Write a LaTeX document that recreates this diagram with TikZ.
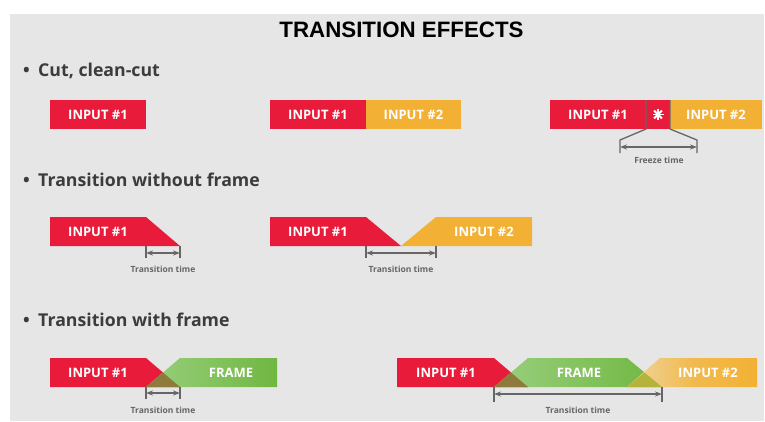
\documentclass[tikz,border=0pt]{standalone}
\usepackage{fontspec}
\setmainfont{Open Sans}
\newfontfamily\titulo{Liberation Sans}
\usetikzlibrary{arrows.meta}
\definecolor{rojo}{HTML}{E81C3A}
\definecolor{naranja}{HTML}{F2B134}
\definecolor{naranjac}{HTML}{EFD6A2}
\definecolor{verde}{HTML}{70B741}
\definecolor{verdec}{HTML}{99CF7E}
\definecolor{marron}{HTML}{8E7B3B}
\definecolor{oliva}{HTML}{B6B33C}
\definecolor{gris}{HTML}{666666}
\definecolor{fondo}{HTML}{E6E6E6}
\definecolor{texto}{HTML}{3C3C3C}

\begin{document}
\begin{tikzpicture}[x=1pt,y=-1pt,
        b/.style={text=white,inner sep=0pt,font=\fontsize{13}{13}\selectfont\bfseries},
        h/.style={anchor=base west,inner sep=0pt,text=texto,font=\fontsize{17.7}{18}\selectfont\bfseries},
        t/.style={text=gris,inner sep=0pt,font=\fontsize{8.5}{9}\selectfont\bfseries},
        f/.style={{Stealth[length=7pt,width=5pt]}-{Stealth[length=7pt,width=5pt]},gris,line width=1.3pt},
        c/.style={gris,line width=1.3pt}]
        \useasboundingbox (0,0) rectangle (765,421);
        \fill[white] (0,0) rectangle (765,421);
        \fill[fondo] (10,14) rectangle (764,421);
        \node[anchor=base,inner sep=0pt,font=\titulo\bfseries\fontsize{22.3}{23}\selectfont] (tit) at (401.5,37) {TRANSITION EFFECTS};

        % cut, clean-cut
        \node[h] (s1) at (23,76) {\makebox[15pt][l]{•}Cut, clean-cut};
        \fill[rojo] (50,100) rectangle (146,129);
        \node[b] (a1) at (98,114.5) {INPUT \#1};
        \fill[rojo] (270,100) rectangle (366,129);
        \fill[naranja] (366,100) rectangle (461,129);
        \node[b] (b1) at (318,114.5) {INPUT \#1};
        \node[b] (b2) at (413.5,114.5) {INPUT \#2};
        \fill[rojo] (550,100) rectangle (670,129);
        \fill[naranja] (670,100) rectangle (762,129);
        \node[b] (c1) at (598,114.5) {INPUT \#1};
        \node[b] (c2) at (716,114.5) {INPUT \#2};
        \coordinate (st) at (658,114.5);
        \foreach \a in {0,45,90,135}
          \draw[white,line width=1.8pt] (st) ++(\a:5.5) -- ++(\a+180:11);
        \coordinate (fz1) at (620,147); \coordinate (fz2) at (697,147);
        \draw[c] (646,100) -- (646,129) -- (620,140) -- (620,153);
        \draw[c] (670,100) -- (670,129) -- (697,140) -- (697,153);
        \draw[f] (fz1) -- (fz2);
        \node[t] (ft) at (659,160) {Freeze time};

        % transition without frame
        \node[h] (s2) at (23,186) {\makebox[15pt][l]{•}Transition without frame};
        \fill[rojo] (50,217) -- (146,217) -- (180,246) -- (50,246) -- cycle;
        \node[b] (d1) at (98,231.5) {INPUT \#1};
        \draw[c] (146,246) -- (146,258); \draw[c] (180,246) -- (180,258);
        \coordinate (tt1) at (146,253); \coordinate (tt2) at (180,253);
        \draw[f] (tt1) -- (tt2);
        \node[t] (l1) at (163,269) {Transition time};
        \fill[rojo] (270,217) -- (366,217) -- (401,246) -- (270,246) -- cycle;
        \fill[naranja] (401,246) -- (436,217) -- (532,217) -- (532,246) -- cycle;
        \node[b] (e1) at (318,231.5) {INPUT \#1};
        \node[b] (e2) at (484,231.5) {INPUT \#2};
        \draw[c] (366,246) -- (366,258); \draw[c] (436,246) -- (436,258);
        \coordinate (tt3) at (366,253); \coordinate (tt4) at (436,253);
        \draw[f] (tt3) -- (tt4);
        \node[t] (l2) at (401,269) {Transition time};

        % transition with frame
        \node[h] (s3) at (23,326) {\makebox[15pt][l]{•}Transition with frame};
        \fill[rojo] (50,358) -- (146,358) -- (180,387) -- (50,387) -- cycle;
        \shade[left color=verdec,right color=verde] (146,387) -- (180,358) -- (277,358) -- (277,387) -- cycle;
        \fill[marron] (146,387) -- (180,387) -- (163,372.5) -- cycle;
        \node[b] (g1) at (98,372.5) {INPUT \#1};
        \node[b] (g2) at (231,372.5) {FRAME};
        \draw[c] (146,387) -- (146,399); \draw[c] (180,387) -- (180,399);
        \coordinate (tt5) at (146,393); \coordinate (tt6) at (180,393);
        \draw[f] (tt5) -- (tt6);
        \node[t] (l3) at (163,410) {Transition time};
        \fill[rojo] (397,358) -- (494,358) -- (528,387) -- (397,387) -- cycle;
        \shade[left color=verdec,right color=verde] (494,387) -- (528,358) -- (627,358) -- (662,387) -- cycle;
        \shade[left color=naranjac,right color=naranja,middle color=naranja!75!naranjac] (627,387) -- (660,358) -- (757,358) -- (757,387) -- cycle;
        \fill[marron] (494,387) -- (528,387) -- (511,372.5) -- cycle;
        \fill[oliva] (627,387) -- (662,387) -- (644.5,372.5) -- cycle;
        \node[b] (k1) at (446,372.5) {INPUT \#1};
        \node[b] (k2) at (579,372.5) {FRAME};
        \node[b] (k3) at (708,372.5) {INPUT \#2};
        \draw[c] (494,387) -- (494,402); \draw[c] (662,387) -- (662,402);
        \coordinate (tt7) at (494,394); \coordinate (tt8) at (662,394);
        \draw[f] (tt7) -- (tt8);
        \node[t] (l4) at (578,410) {Transition time};
      \end{tikzpicture}
\end{document}
